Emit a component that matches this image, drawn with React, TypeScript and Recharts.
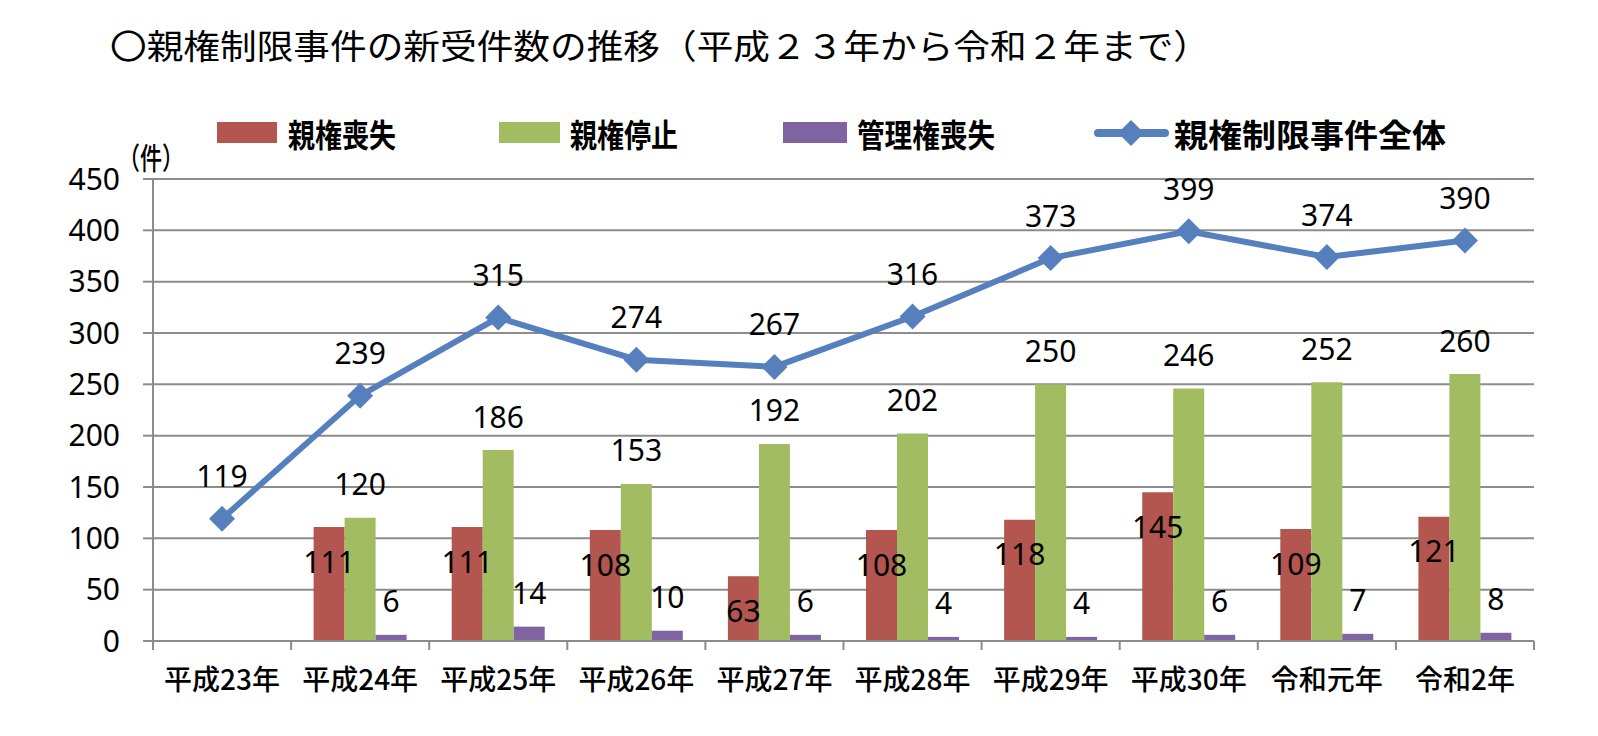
import { Bar, CartesianGrid, ComposedChart, LabelList, Line, XAxis, YAxis } from 'recharts';

// 親権制限事件の新受件数（平成23年〜令和2年）
const categories = ['平成23年', '平成24年', '平成25年', '平成26年', '平成27年', '平成28年', '平成29年', '平成30年', '令和元年', '令和2年'];
const shissou = [null, 111, 111, 108, 63, 108, 118, 145, 109, 121]; // 親権喪失
const teishi = [null, 120, 186, 153, 192, 202, 250, 246, 252, 260]; // 親権停止
const kanri = [null, 6, 14, 10, 6, 4, 4, 6, 7, 8]; // 管理権喪失
const total = [119, 239, 315, 274, 267, 316, 373, 399, 374, 390]; // 親権制限事件全体
const yTicks = [0, 50, 100, 150, 200, 250, 300, 350, 400, 450];

const RED = '#b3564f';
const GREEN = '#a2bc62';
const PURPLE = '#7e64a0';
const BLUE = '#5680bd';
const GRID = '#8c8c8c';
const NUM_FONT = "'Noto Sans', 'Noto Sans CJK JP', sans-serif";
const JP_FONT = "'Noto Sans CJK JP', sans-serif";

const data = categories.map((name, i) => ({
  name,
  shissou: shissou[i],
  teishi: teishi[i],
  kanri: kanri[i],
  total: total[i],
}));

const labelStyle = { fontFamily: NUM_FONT, fontSize: 30, fill: '#000' };

function AboveBarLabel(props: any) {
  const { x, y, width, value } = props;
  if (value == null) return null;
  return (
    <text x={x + width / 2} y={y - 34} textAnchor="middle" dominantBaseline="central" style={labelStyle}>
      {value}
    </text>
  );
}

function InsideBarLabel(props: any) {
  const { x, y, width, value } = props;
  if (value == null) return null;
  return (
    <text x={x + width / 2} y={y + 34} textAnchor="middle" dominantBaseline="central" style={labelStyle}>
      {value}
    </text>
  );
}

function LineLabel(props: any) {
  const { x, y, value } = props;
  return (
    <text x={x} y={y - 43} textAnchor="middle" dominantBaseline="central" style={labelStyle}>
      {value}
    </text>
  );
}

function Diamond(props: any) {
  const { cx, cy } = props;
  if (cx == null || cy == null) return null;
  const r = 13;
  return <path d={`M${cx},${cy - r}L${cx + r},${cy}L${cx},${cy + r}L${cx - r},${cy}Z`} fill={BLUE} />;
}

function CategoryTick(props: any) {
  const { x, y, payload, index, visibleTicksCount } = props;
  const half = payload?.offset || 69;
  const last = index === (visibleTicksCount ?? categories.length) - 1;
  const axisY = y - 8;
  return (
    <g>
      <line x1={x - half} x2={x - half} y1={axisY} y2={axisY + 9} stroke={GRID} strokeWidth={2} />
      {last && <line x1={x + half} x2={x + half} y1={axisY} y2={axisY + 9} stroke={GRID} strokeWidth={2} />}
      <text x={x} y={axisY + 37} textAnchor="middle" dominantBaseline="central"
        style={{ fontFamily: JP_FONT, fontSize: 28, fontWeight: 500, fill: '#000' }}>
        {payload.value}
      </text>
    </g>
  );
}

function Header() {
  return (
    <svg width={1598} height={736} style={{ position: 'absolute', left: 0, top: 0, pointerEvents: 'none' }}>
      <text x={110} y={44} dominantBaseline="central" textLength={1100} lengthAdjust="spacingAndGlyphs"
        style={{ fontFamily: JP_FONT, fontSize: 34, fill: '#000' }}>
        〇親権制限事件の新受件数の推移（平成２３年から令和２年まで）
      </text>
      <g style={{ fontFamily: JP_FONT, fontSize: 32, fontWeight: 700, fill: '#000' }}>
        <rect x={217} y={122} width={60} height={21} fill={RED} />
        <text x={288} y={133} dominantBaseline="central" textLength={108} lengthAdjust="spacingAndGlyphs">親権喪失</text>
        <rect x={499} y={122} width={61} height={21} fill={GREEN} />
        <text x={570} y={133} dominantBaseline="central" textLength={108} lengthAdjust="spacingAndGlyphs">親権停止</text>
        <rect x={783} y={122} width={64} height={21} fill={PURPLE} />
        <text x={857} y={133} dominantBaseline="central" textLength={138} lengthAdjust="spacingAndGlyphs">管理権喪失</text>
        <line x1={1098} x2={1165} y1={133} y2={133} stroke={BLUE} strokeWidth={8} strokeLinecap="round" />
        <path d="M1131,120L1144,133L1131,146L1118,133Z" fill={BLUE} />
        <text x={1174} y={133} dominantBaseline="central" textLength={272} lengthAdjust="spacingAndGlyphs">親権制限事件全体</text>
      </g>
      <text x={118} y={156} dominantBaseline="central" textLength={66} lengthAdjust="spacingAndGlyphs"
        style={{ fontFamily: JP_FONT, fontSize: 30, fontWeight: 500, fill: '#000' }}>
        （件）
      </text>
    </svg>
  );
}

export default function App() {
  return (
    <div style={{ position: 'absolute', left: 0, top: 0, width: 1598, height: 736, background: '#fff' }}>
      <ComposedChart
        width={1598}
        height={736}
        data={data}
        margin={{ top: 179, right: 64, bottom: 55, left: 0 }}
        barCategoryGap="16.3%"
        barGap={0}
      >
        <CartesianGrid vertical={false} stroke={GRID} strokeWidth={2} />
        <XAxis
          dataKey="name"
          height={40}
          axisLine={{ stroke: GRID, strokeWidth: 2 }}
          tickLine={false}
          tickSize={8}
          tickMargin={0}
          interval={0}
          tick={<CategoryTick />}
        />
        <YAxis
          width={153}
          domain={[0, 450]}
          ticks={yTicks}
          interval={0}
          axisLine={{ stroke: GRID, strokeWidth: 2 }}
          tickLine={{ stroke: GRID, strokeWidth: 2 }}
          tickSize={10}
          tickMargin={23}
          tick={{ fill: '#000', fontSize: 30, fontFamily: NUM_FONT }}
        />
        <Bar dataKey="shissou" fill={RED} isAnimationActive={false}>
          <LabelList dataKey="shissou" content={<InsideBarLabel />} />
        </Bar>
        <Bar dataKey="teishi" fill={GREEN} isAnimationActive={false}>
          <LabelList dataKey="teishi" content={<AboveBarLabel />} />
        </Bar>
        <Bar dataKey="kanri" fill={PURPLE} isAnimationActive={false}>
          <LabelList dataKey="kanri" content={<AboveBarLabel />} />
        </Bar>
        <Line
          dataKey="total"
          stroke={BLUE}
          strokeWidth={6}
          dot={<Diamond />}
          activeDot={false}
          isAnimationActive={false}
        >
          <LabelList dataKey="total" content={<LineLabel />} />
        </Line>
      </ComposedChart>
      <Header />
    </div>
  );
}
